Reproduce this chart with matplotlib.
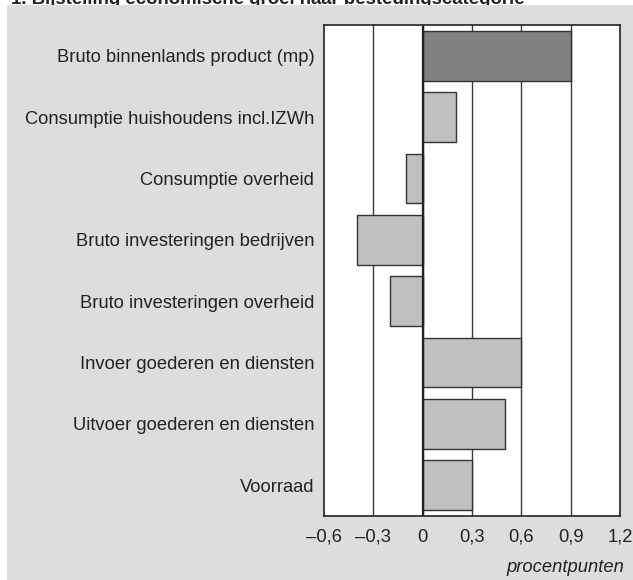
import matplotlib.pyplot as plt
from matplotlib.patches import Rectangle

plt.rcParams['font.family'] = ['Liberation Sans', 'DejaVu Sans']

categories = ["Bruto binnenlands product (mp)",
              "Consumptie huishoudens incl.IZWh",
              "Consumptie overheid",
              "Bruto investeringen bedrijven",
              "Bruto investeringen overheid",
              "Invoer goederen en diensten",
              "Uitvoer goederen en diensten",
              "Voorraad"]
values = [0.9, 0.2, -0.1, -0.4, -0.2, 0.6, 0.5, 0.3]
ticks = [-0.6, -0.3, 0, 0.3, 0.6, 0.9, 1.2]
tick_labels = ["–0,6", "–0,3", "0", "0,3", "0,6", "0,9", "1,2"]

W, H = 633, 580
fig = plt.figure(figsize=(W / 100, H / 100), dpi=100)
fig.patches.append(Rectangle((7 / W, 0), 1 - 7 / W, 1 - 5 / H, transform=fig.transFigure,
                             facecolor='#dcdddf', edgecolor='none', zorder=-10))
fig.text(11 / W, 1 - 3.5 / H, "1. Bijstelling economische groei naar bestedingscategorie",
         fontsize=13.4, fontweight='bold', color='#222222', va='baseline', ha='left',
         zorder=-20)

ax = fig.add_axes([324 / W, 1 - 516 / H, (620 - 324) / W, (516 - 25) / H])
ax.set_facecolor('white')

colors = ['#808182'] + ['#bfc0c1'] * (len(values) - 1)
ypos = list(range(len(categories)))
ax.barh(ypos, values, height=0.81, color=colors, edgecolor='#333333', linewidth=1, zorder=2)
for t in ticks[1:-1]:
    ax.axvline(t, color='#3a3a3a', linewidth=1, zorder=1)
ax.axvline(0, color='#222222', linewidth=1.6, zorder=3)

ax.set_xlim(-0.6, 1.2)
ax.set_ylim(len(categories) - 0.5, -0.5)
ax.set_xticks(ticks)
ax.set_xticklabels(tick_labels)
ax.set_yticks(ypos)
ax.set_yticklabels(categories)
ax.tick_params(axis='both', length=0, labelsize=13.2, colors='#222222')
ax.tick_params(axis='x', pad=9)
ax.tick_params(axis='y', pad=7)
for s in ax.spines.values():
    s.set_color('#222222')
    s.set_linewidth(1.2)

fig.text(624 / W, 1 - 567 / H, "procentpunten", fontsize=13.2, style='italic',
         color='#222222', ha='right', va='center')

fig.savefig('out.png', dpi=100)
